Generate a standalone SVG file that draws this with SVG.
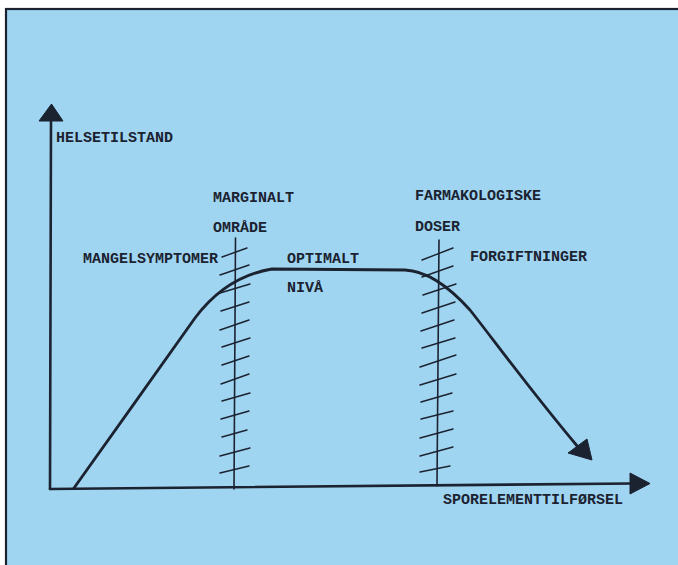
<svg xmlns="http://www.w3.org/2000/svg" width="678" height="565" viewBox="0 0 678 565">
<style>
.ink{stroke:#1b2230;fill:none;stroke-linecap:round}
.ax{stroke-width:2.6}
.cv{stroke-width:2.8;stroke-linejoin:round}
.vl{stroke-width:1.6}
.ht{stroke-width:1.4}
.head{fill:#1b2230;stroke:#1b2230;stroke-width:1;stroke-linejoin:round}
text{font-family:"Courier New","Nimbus Mono PS","FreeMono","Liberation Mono",monospace;font-size:15px;font-weight:bold;fill:#1b2230}
</style>
<rect x="0" y="0" width="678" height="565" fill="#ffffff"/>
<rect x="6" y="9" width="680" height="570" fill="#a0d5f2" stroke="#1b2230" stroke-width="2.2"/>
<g id="axes">
<line class="ink ax" x1="51" y1="118" x2="50" y2="489"/>
<polygon class="head" points="51.5,104 39,121 63,121"/>
<line class="ink ax" x1="50" y1="489" x2="632" y2="483.5"/>
<polygon class="head" points="630,473 630,494 650,483.5"/>
</g>
<g id="zones">
<line class="ink vl" x1="235.5" y1="238" x2="234" y2="489"/>
<line class="ink vl" x1="439" y1="240" x2="437" y2="486"/>
<g class="ink ht">
<line x1="222" y1="257" x2="247" y2="248"/>
<line x1="220" y1="275" x2="249" y2="265"/>
<line x1="220" y1="293" x2="250" y2="284"/>
<line x1="221" y1="311" x2="249" y2="302"/>
<line x1="220" y1="330" x2="249" y2="320"/>
<line x1="222" y1="347" x2="250" y2="338"/>
<line x1="222" y1="365" x2="249" y2="356"/>
<line x1="221" y1="384" x2="249" y2="374"/>
<line x1="222" y1="401" x2="250" y2="393"/>
<line x1="221" y1="419" x2="249" y2="411"/>
<line x1="222" y1="437" x2="247" y2="430"/>
<line x1="220" y1="456" x2="250" y2="448"/>
<line x1="220" y1="473" x2="249" y2="466"/>
</g>
<g class="ink ht">
<line x1="422" y1="260" x2="453" y2="248"/>
<line x1="422" y1="277" x2="453" y2="266"/>
<line x1="423" y1="295" x2="456" y2="284"/>
<line x1="422" y1="313" x2="455" y2="302"/>
<line x1="421" y1="331" x2="454" y2="320"/>
<line x1="422" y1="348" x2="455" y2="338"/>
<line x1="420" y1="367" x2="456" y2="355"/>
<line x1="420" y1="385" x2="456" y2="374"/>
<line x1="421" y1="402" x2="452" y2="393"/>
<line x1="421" y1="419" x2="453" y2="411"/>
<line x1="420" y1="438" x2="453" y2="429"/>
<line x1="420" y1="456" x2="453" y2="447"/>
<line x1="420" y1="472" x2="450" y2="466"/>
</g>
</g>
<g id="curve">
<path class="ink cv" d="M74,488 C105,445 165,360 195,318 C210,298 235,275 272,269 L405,270 C430,271 452,290 470,310 C490,335 530,390 578,447"/>
<polygon class="head" points="568,453 587,439 592,460"/>
</g>
<g id="labels">
<text x="56" y="141.5">HELSETILSTAND</text>
<text x="213" y="201.5">MARGINALT</text>
<text x="213" y="231.5">OMRÅDE</text>
<text x="83" y="262.5">MANGELSYMPTOMER</text>
<text x="287" y="262.5">OPTIMALT</text>
<text x="287" y="291.5">NIVÅ</text>
<text x="415" y="200">FARMAKOLOGISKE</text>
<text x="415" y="230.5">DOSER</text>
<text x="470" y="261">FORGIFTNINGER</text>
<text x="443" y="503.5">SPORELEMENTTILFØRSEL</text>
</g>
</svg>
